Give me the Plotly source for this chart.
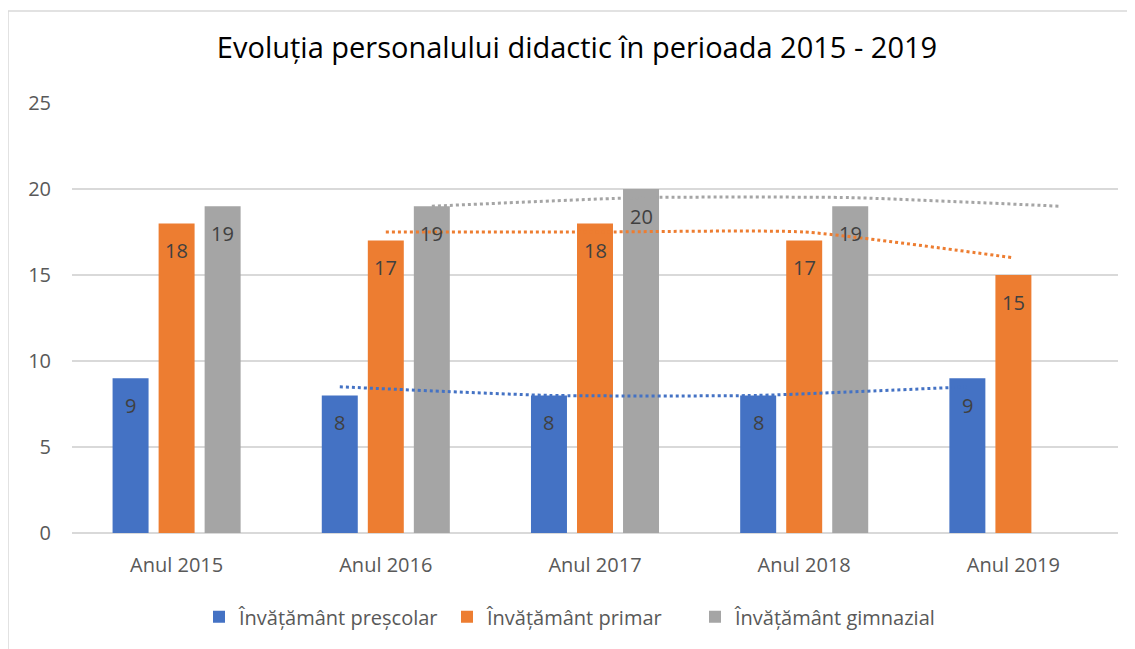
import plotly.graph_objects as go

categories = ["Anul 2015", "Anul 2016", "Anul 2017", "Anul 2018", "Anul 2019"]
prescolar = [9, 8, 8, 8, 9]
primar = [18, 17, 18, 17, 15]
gimnazial = [19, 19, 20, 19, None]
series_names = ["Învățământ preșcolar", "Învățământ primar", "Învățământ gimnazial"]
colors = ["#4472C4", "#ED7D31", "#A5A5A5"]
y_ticks = [0, 5, 10, 15, 20, 25]

FONT = "Open Sans"
bar_w = 0.172
spacing = 0.22
offsets = [-spacing, 0.0, spacing]

fig = go.Figure()
xs = list(range(len(categories)))
all_series = [prescolar, primar, gimnazial]

for vals, name, col, off in zip(all_series, series_names, colors, offsets):
    fig.add_trace(go.Bar(
        x=[i + off for i in xs], y=vals, width=bar_w, name=name,
        marker=dict(color=col, line=dict(width=0)),
        hoverinfo="y",
    ))

# 2-period moving average trendlines (Excel style)
for vals, col, off in zip(all_series, colors, offsets):
    tx, ty = [], []
    for i in range(1, len(vals)):
        pair = [v for v in (vals[i - 1], vals[i]) if v is not None]
        if pair:
            tx.append(i + off)
            ty.append(sum(pair) / len(pair))
    fig.add_trace(go.Scatter(
        x=tx, y=ty, mode="lines", showlegend=False, hoverinfo="skip",
        line=dict(color=col, width=3, dash="dot", shape="spline", smoothing=0.5),
    ))

# data labels (inside end)
for vals, off in zip(all_series, offsets):
    for i, v in enumerate(vals):
        if v is None:
            continue
        fig.add_annotation(x=i + off, y=v, text=str(v), showarrow=False,
                           yshift=-27, font=dict(family=FONT, size=20, color="#404040"))

# chart border
fig.add_shape(type="rect", xref="paper", yref="paper",
              x0=(8 - 72) / 1046, x1=1.2, y0=-0.5, y1=(533 - 11) / 430,
              line=dict(color="#D9D9D9", width=1.5), fillcolor="rgba(0,0,0,0)", layer="below")

fig.update_layout(
    width=1127, height=641,
    margin=dict(l=64, r=17, t=95, b=116),
    paper_bgcolor="white", plot_bgcolor="white",
    title=dict(text="Evoluția personalului didactic în perioada 2015 - 2019",
               x=(577 - 8) / 1127, xanchor="center", y=1 - 40 / 641, yanchor="middle",
               font=dict(family=FONT, size=29, color="#000000")),
    barmode="overlay",
    showlegend=True,
    legend=dict(orientation="h", x=(571 - 72) / 1046, xanchor="center", y=-0.195, yanchor="middle",
                font=dict(family=FONT, size=20, color="#595959"), traceorder="normal",
                itemwidth=30, entrywidth=203, entrywidthmode="pixels"),
    xaxis=dict(range=[-0.5, 4.5], tickvals=xs, ticktext=categories, showgrid=False,
               zeroline=False, showline=False, ticks="", ticklabelstandoff=18,
               tickfont=dict(family=FONT, size=20, color="#595959")),
    yaxis=dict(range=[0, 25], tickvals=y_ticks, showgrid=True, gridcolor="#D9D9D9", gridwidth=1.5,
               zeroline=True, zerolinecolor="#D9D9D9", zerolinewidth=1.5, ticks="",
               ticklabelstandoff=20,
               tickfont=dict(family=FONT, size=20, color="#595959")),
)

fig.write_html("out.html")
